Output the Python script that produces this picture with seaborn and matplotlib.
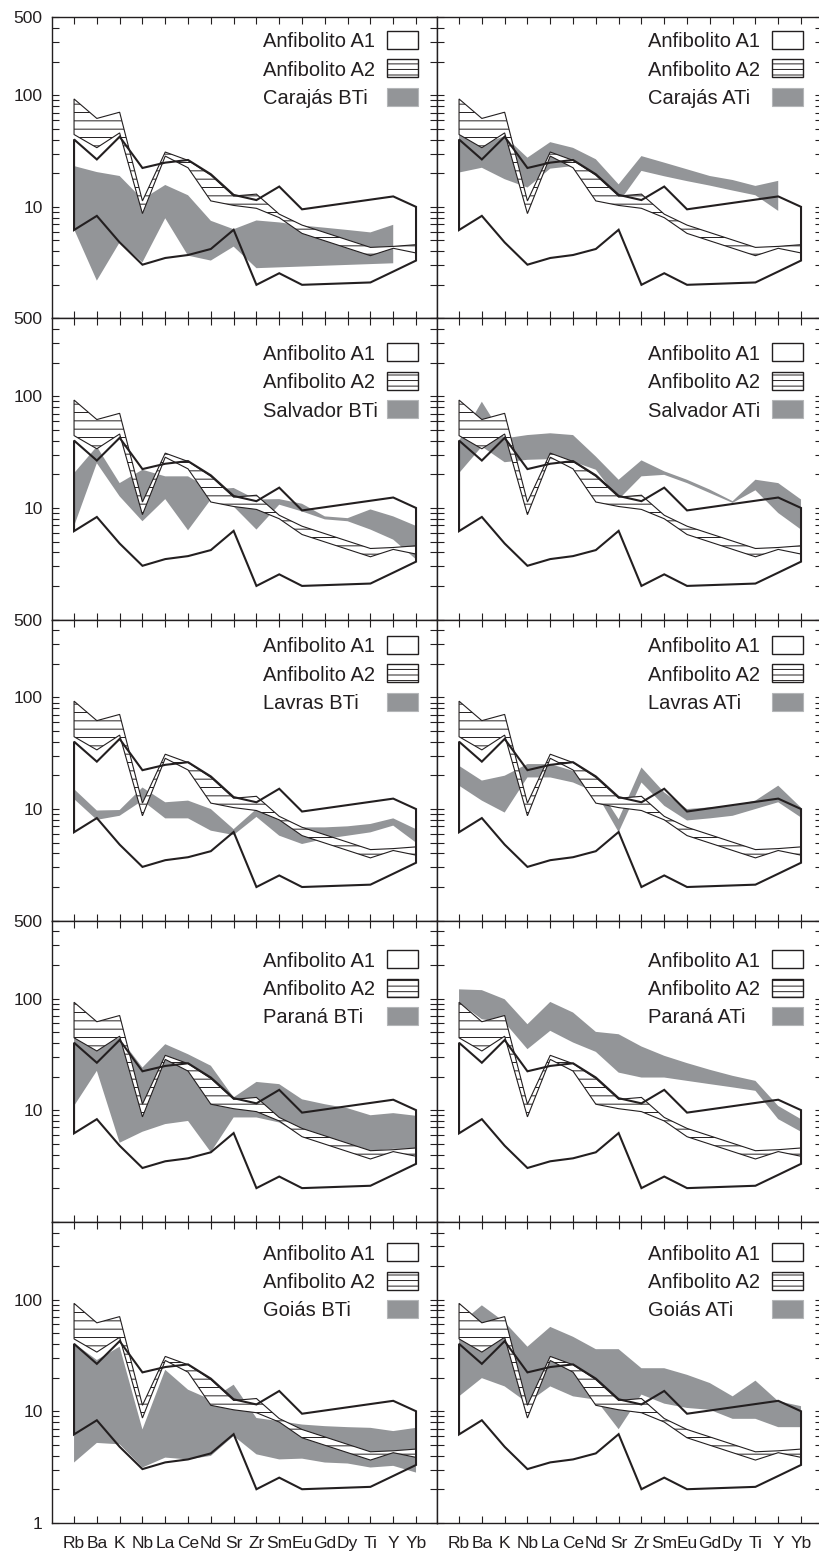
import numpy as np
import matplotlib
matplotlib.use("Agg")
import matplotlib.pyplot as plt
import matplotlib.patches as mpatches
from matplotlib.ticker import FixedLocator, LogLocator, NullFormatter, FixedFormatter
import seaborn as sns

nan = np.nan

# ---------------- data ----------------
elements = ["Rb", "Ba", "K", "Nb", "La", "Ce", "Nd", "Sr", "Zr", "Sm",
            "Eu", "Gd", "Dy", "Ti", "Y", "Yb"]

# reference envelopes (same in every panel)
a1_upper = [40.2, 26.6, 42.5, 22.3, 24.9, 26.3, 19.6, 12.8, 11.5, 15.2, 9.5, nan, nan, nan, 12.4, 10.0]
a1_lower = [6.2, 8.3, 4.8, 3.03, 3.48, 3.7, 4.19, 6.23, 2.0, 2.54, 2.0, nan, nan, 2.1, 2.63, 3.3]
a2_upper = [92.7, 62.0, 70.5, 11.3, 31.0, 26.1, 19.2, 12.5, 13.0, 8.6, 6.86, nan, nan, 4.33, 4.42, 4.58]
a2_lower = [44.5, 33.9, 46.0, 8.7, 28.5, 22.4, 11.3, 10.3, 9.7, 8.0, 5.78, nan, nan, 3.65, 4.25, 3.86]

# gray fields (upper / lower limits)
carajas_bti_hi = [23.2, 20.5, 18.9, 11.7, 15.7, 12.7, 7.5, 6.3, 7.55, 7.25, 6.8, 6.5, 6.2, 5.9, 6.9, nan]
carajas_bti_lo = [6.3, 2.18, 4.8, 3.18, 7.9, 3.65, 3.3, 4.4, 2.82, nan, nan, nan, nan, nan, 3.12, nan]
carajas_ati_hi = [44.5, 36.3, 43.0, 27.6, 38.0, 33.8, 26.7, 15.9, 28.5, 24.9, 21.7, 18.9, 17.4, 15.4, 17.1, nan]
carajas_ati_lo = [20.3, 22.4, 17.7, 14.9, 22.0, 23.2, 18.9, 10.9, 21.0, 18.8, 17.0, 15.5, 14.0, 12.7, 9.2, nan]

salvador_bti_hi = [20.5, 35.5, 16.7, 22.0, 19.2, 19.2, 14.6, 15.1, 11.9, 12.0, 10.9, 8.4, 8.1, 9.7, 8.4, 6.9]
salvador_bti_lo = [6.86, 25.2, 12.7, 7.6, 12.0, 6.3, 11.9, 10.3, 6.4, 10.7, 9.3, 7.9, 7.6, 6.4, 5.2, 3.46]
salvador_ati_hi = [40.0, 89.6, 42.0, 45.0, 46.7, 45.0, 28.9, 17.9, 26.7, 21.3, 17.9, 14.6, 11.5, 17.9, 16.7, 11.9]
salvador_ati_lo = [20.5, 35.5, 25.7, 27.0, 27.4, 26.0, 22.0, 11.9, 19.2, 19.8, 16.7, 13.6, 11.1, 14.4, 9.0, 6.4]

lavras_bti_hi = [15.1, 9.7, 9.8, 15.6, 11.5, 11.9, 10.0, 6.6, 10.0, 8.4, 6.85, 6.85, 7.0, 7.35, 8.25, 6.6]
lavras_bti_lo = [12.3, 8.0, 8.7, 11.9, 8.25, 8.25, 6.4, 5.85, 8.5, 5.77, 4.86, 5.4, 5.77, 6.18, 7.1, 5.0]
lavras_ati_hi = [24.4, 18.0, 19.9, 25.3, 25.3, 22.0, 16.7, 8.1, 23.6, 14.1, 10.0, 10.35, 10.7, 11.9, 16.2, 10.3]
lavras_ati_lo = [16.2, 11.9, 9.3, 19.2, 19.2, 17.3, 14.1, 6.2, 17.3, 10.7, 7.9, 8.25, 8.7, 10.0, 11.5, 8.4]

parana_bti_hi = [45.7, 36.4, 44.7, 24.1, 39.0, 31.7, 25.0, 13.0, 17.9, 17.1, 12.5, 11.3, 10.4, 9.0, 9.4, 8.9]
parana_bti_lo = [10.9, 22.5, 5.1, 6.4, 7.5, 8.0, 4.2, 8.6, 8.6, 7.75, 5.9, 5.3, 4.96, 4.3, 4.5, 4.5]
parana_ati_hi = [121, 119, 98.6, 58.9, 93.3, 75.0, 50.3, 47.9, 37.2, 30.7, 26.4, 23.0, 20.3, 18.3, 10.9, 8.3]
parana_ati_lo = [92.0, 65.3, 61.0, 35.2, 51.4, 40.4, 33.3, 21.7, 19.6, 19.6, 18.3, 17.1, 16.0, 14.9, 8.3, 6.4]

goias_bti_hi = [40.6, 28.8, 37.9, 6.87, 23.5, 15.6, 12.7, 17.3, 8.7, 8.15, 7.6, 7.35, 7.2, 7.1, 6.64, 7.1]
goias_bti_lo = [3.47, 5.2, 5.05, 3.13, 3.84, 3.7, 3.98, 6.0, 4.11, 3.7, 3.76, 3.47, 3.4, 3.13, 3.24, 2.82]
goias_ati_hi = [60.0, 89.0, 63.0, 37.9, 57.0, 46.5, 36.0, 36.0, 24.3, 24.3, 21.2, 17.9, 13.6, 18.8, 12.3, 11.1]
goias_ati_lo = [13.6, 19.8, 16.7, 11.9, 16.7, 13.6, 12.7, 6.9, 14.1, 11.7, 10.7, 10.3, 8.55, 8.55, 7.2, 7.2]

legend_a1 = "Anfibolito A1"
legend_a2 = "Anfibolito A2"
panel_labels = [["Carajás BTi", "Carajás ATi"],
                ["Salvador BTi", "Salvador ATi"],
                ["Lavras BTi", "Lavras ATi"],
                ["Paraná BTi", "Paraná ATi"],
                ["Goiás BTi", "Goiás ATi"]]
panel_fields = [[(carajas_bti_hi, carajas_bti_lo), (carajas_ati_hi, carajas_ati_lo)],
                [(salvador_bti_hi, salvador_bti_lo), (salvador_ati_hi, salvador_ati_lo)],
                [(lavras_bti_hi, lavras_bti_lo), (lavras_ati_hi, lavras_ati_lo)],
                [(parana_bti_hi, parana_bti_lo), (parana_ati_hi, parana_ati_lo)],
                [(goias_bti_hi, goias_bti_lo), (goias_ati_hi, goias_ati_lo)]]

# ---------------- style ----------------
sns.set_theme(style="ticks")
plt.rcParams["font.family"] = ["Liberation Sans", "DejaVu Sans"]
plt.rcParams["hatch.linewidth"] = 0.7
DARK = "#231f20"
GRAY = "#939598"
plt.rcParams["hatch.color"] = DARK

W, H = 819, 1554
fig = plt.figure(figsize=(W / 100, H / 100), dpi=100)

ax_left_px = [52, 437]
ax_w_px = 385
top0 = 17.3
row_h = 301.1
legend_offsets = [22.5, 34.0, 25.5, 38.5, 30.5]   # px below axes top of first legend row


def polygon(hi, lo):
    x = np.arange(len(elements))
    hi = np.asarray(hi, float)
    lo = np.asarray(lo, float)
    mh = ~np.isnan(hi)
    ml = ~np.isnan(lo)
    xs = np.concatenate([x[mh], x[ml][::-1]])
    ys = np.concatenate([hi[mh], lo[ml][::-1]])
    return xs, ys


a1x, a1y = polygon(a1_upper, a1_lower)
a2x, a2y = polygon(a2_upper, a2_lower)

for r in range(5):
    bottom_px = top0 + (r + 1) * row_h
    for c in range(2):
        ax = fig.add_axes([ax_left_px[c] / W, 1 - bottom_px / H, ax_w_px / W, row_h / H])
        ax.set_yscale("log")
        ax.set_ylim(1, 500)
        ax.set_xlim(-0.967, 15.92)

        hi, lo = panel_fields[r][c]
        gx, gy = polygon(hi, lo)

        ax.fill(a1x, a1y, facecolor="white", edgecolor="none", zorder=1)
        ax.fill(gx, gy, facecolor=GRAY, edgecolor="none", zorder=2)
        ax.fill(a2x, a2y, facecolor="white", edgecolor=DARK, hatch="--",
                linewidth=0.8, zorder=3)
        ax.fill(a1x, a1y, facecolor="none", edgecolor=DARK, linewidth=1.5,
                joinstyle="miter", zorder=4)

        for sp in ax.spines.values():
            sp.set_linewidth(1.0)
            sp.set_color(DARK)
            sp.set_visible(True)

        ax.set_xticks(range(len(elements)))
        ax.yaxis.set_major_locator(FixedLocator([1, 10, 100, 500]))
        ax.yaxis.set_minor_locator(LogLocator(base=10, subs=np.arange(2, 10)))
        ax.yaxis.set_minor_formatter(NullFormatter())
        ax.tick_params(which="both", direction="in", top=True, right=True,
                       bottom=True, left=True, length=5, width=0.8, color=DARK)
        ax.tick_params(axis="x", labelsize=12.5, pad=9.5, labelcolor=DARK)
        ax.tick_params(axis="y", labelsize=12.5, pad=6.7, labelcolor=DARK)

        if r == 4:
            ax.set_xticklabels(elements)
        else:
            ax.tick_params(axis="x", labelbottom=False)
        if c == 0:
            if r == 4:
                ax.yaxis.set_major_formatter(FixedFormatter(["1", "10", "100", ""]))
            else:
                ax.yaxis.set_major_formatter(FixedFormatter(["", "10", "100", "500"]))
        else:
            ax.tick_params(axis="y", labelleft=False)
        ax.grid(False)

        # manual legend
        y0 = legend_offsets[r]
        rows = [legend_a1, legend_a2, panel_labels[r][c]]
        for i, lab in enumerate(rows):
            yc = 1 - (y0 + i * 28.4) / row_h
            ax.text(0.549, yc, lab, transform=ax.transAxes, fontsize=14.5,
                    color=DARK, ha="left", va="center_baseline", zorder=6)
            bh = 18.0 / row_h
            if i == 0:
                patch = mpatches.Rectangle((0.869, yc - bh / 2), 0.082, bh,
                                           transform=ax.transAxes, facecolor="white",
                                           edgecolor=DARK, linewidth=1.0,
                                           clip_on=False, zorder=6)
            elif i == 1:
                patch = mpatches.Rectangle((0.869, yc - bh / 2), 0.082, bh,
                                           transform=ax.transAxes, facecolor="white",
                                           edgecolor=DARK, linewidth=1.0, hatch="---",
                                           clip_on=False, zorder=6)
            else:
                patch = mpatches.Rectangle((0.869, yc - bh / 2), 0.082, bh,
                                           transform=ax.transAxes, facecolor=GRAY,
                                           edgecolor="#b4b6b8", linewidth=0.8,
                                           clip_on=False, zorder=6)
            ax.add_patch(patch)

fig.savefig("out.png", dpi=100)
